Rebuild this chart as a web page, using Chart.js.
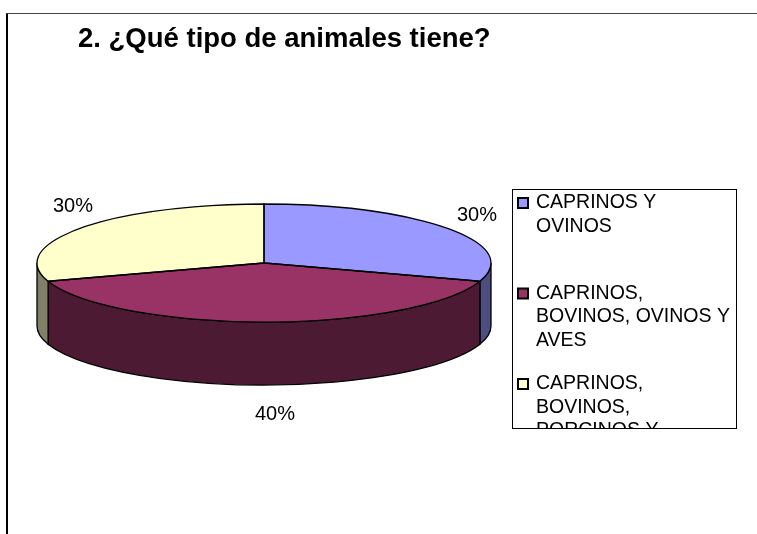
<!DOCTYPE html>
<html>
<head>
<meta charset="utf-8">
<script src="https://cdn.jsdelivr.net/npm/chart.js@4"></script>
<style>
    html, body { margin: 0; padding: 0; background: #fff; }
    #grafico { display: block; }
</style>
</head>
<body>
<canvas id="grafico" width="757" height="534"></canvas>
<script>
const titulo = '2. ¿Qué tipo de animales tiene?';
const categorias = ['CAPRINOS Y OVINOS', 'CAPRINOS, BOVINOS, OVINOS Y AVES', 'CAPRINOS, BOVINOS, PORCINOS Y OVINOS'];
const porcentajes = [30, 40, 30];

const coloresCara = ['#9999FF', '#993366', '#FFFFCC'],
    coloresLado = ['#4D4D80', '#4D1A33', '#808066'];

const fuente = '"Liberation Sans", Arial, sans-serif';

// elipse del pastel en pantalla
const pastel = { cx: 264, cy: 263, rx: 227, ry: 59, prof: 63 };

function frontal(a1, a2) {
    // parte de [a1,a2] que cae en la mitad delantera (0..PI)
    let res = [];
    for (let k = -1; k <= 1; k++) {
        let lo = Math.max(a1, k * 2 * Math.PI), hi = Math.min(a2, k * 2 * Math.PI + Math.PI);
        if (hi > lo) res.push([lo, hi]);
    }
    return res;
}

const pastel3d = {
    id: 'pastel3d',
    beforeDraw(chart) {
        const ctx = chart.ctx;
        ctx.save();
        ctx.fillStyle = '#fff';
        ctx.fillRect(0, 0, chart.width, chart.height);
        // marco
        ctx.fillStyle = '#000';
        ctx.fillRect(6, 13, 2, chart.height - 13);
        ctx.fillStyle = '#444';
        ctx.fillRect(6, 13, chart.width - 6, 1);
        ctx.restore();
    },
    beforeDatasetsDraw(chart) {
        const ctx = chart.ctx,
            arcos = chart.getDatasetMeta(0).data,
            { cx, cy, rx, ry, prof } = pastel;

        // lados
        ctx.save();
        ctx.lineWidth = 1.3;
        ctx.strokeStyle = '#000';
        arcos.forEach((arc, i) => {
            frontal(arc.startAngle, arc.endAngle).forEach(([a1, a2]) => {
                ctx.beginPath();
                ctx.ellipse(cx, cy, rx, ry, 0, a1, a2, false);
                ctx.lineTo(cx + rx * Math.cos(a2), cy + ry * Math.sin(a2) + prof);
                ctx.ellipse(cx, cy + prof, rx, ry, 0, a2, a1, true);
                ctx.closePath();
                ctx.fillStyle = coloresLado[i];
                ctx.fill();
                ctx.stroke();
            });
        });
        ctx.restore();

        // cara superior: se aplasta el pastel de Chart.js
        const a = arcos[0];
        ctx.save();
        ctx.translate(cx, cy);
        ctx.scale(rx / a.outerRadius, ry / a.outerRadius);
        ctx.translate(-a.x, -a.y);
    },
    afterDatasetsDraw(chart) {
        const ctx = chart.ctx,
            arcos = chart.getDatasetMeta(0).data,
            { cx, cy, rx, ry, prof } = pastel;
        ctx.restore();

        ctx.save();
        ctx.lineWidth = 1.3;
        ctx.strokeStyle = '#000';
        arcos.forEach(arc => {
            ctx.beginPath();
            ctx.moveTo(cx, cy);
            ctx.lineTo(cx + rx * Math.cos(arc.startAngle), cy + ry * Math.sin(arc.startAngle));
            ctx.ellipse(cx, cy, rx, ry, 0, arc.startAngle, arc.endAngle, false);
            ctx.closePath();
            ctx.stroke();
        });

        // etiquetas de porcentaje
        const total = porcentajes.reduce((s, v) => s + v, 0);
        ctx.fillStyle = '#000';
        ctx.font = '20px ' + fuente;
        ctx.textAlign = 'center';
        ctx.textBaseline = 'middle';
        arcos.forEach((arc, i) => {
            let m = (arc.startAngle + arc.endAngle) / 2,
                c = Math.cos(m), s = Math.sin(m);
            let x = cx + c * rx * 1.1 + 11,
                y = cy + s * ry * 1.5 + (s > 0.3 ? prof : 0) + c * 6;
            ctx.fillText(Math.round(porcentajes[i] / total * 100) + '%', x, y);
        });
        ctx.restore();
    },
    afterDraw(chart) {
        // leyenda
        const ctx = chart.ctx,
            caja = { x: 512, y: 189, w: 224, h: 239 },
            maxAncho = 199;
        ctx.save();
        ctx.lineWidth = 1;
        ctx.strokeStyle = '#000';
        ctx.strokeRect(caja.x + 0.5, caja.y + 0.5, caja.w, caja.h);
        ctx.beginPath();
        ctx.rect(caja.x + 1, caja.y + 1, caja.w - 1, caja.h - 1);
        ctx.clip();

        ctx.font = '19.5px ' + fuente;
        ctx.textBaseline = 'middle';
        ctx.textAlign = 'left';
        chart.data.labels.forEach((texto, i) => {
            let y0 = caja.y + 14 + i * 90.5;
            ctx.fillStyle = coloresCara[i];
            ctx.fillRect(518, y0 - 5, 10, 10);
            ctx.lineWidth = 2;
            ctx.strokeRect(518, y0 - 5, 10, 10);

            let lineas = [], actual = '';
            texto.split(' ').forEach(p => {
                let prueba = actual ? actual + ' ' + p : p;
                if (ctx.measureText(prueba).width > maxAncho && actual) {
                    lineas.push(actual);
                    actual = p;
                } else {
                    actual = prueba;
                }
            });
            lineas.push(actual);

            ctx.fillStyle = '#000';
            lineas.forEach((l, j) => ctx.fillText(l, 536, y0 + j * 23.5));
        });
        ctx.restore();
    }
};

new Chart(document.getElementById('grafico'), {
    type: 'pie',
    data: {
        labels: categorias,
        datasets: [{
            data: porcentajes,
            backgroundColor: coloresCara,
            borderWidth: 0,
            clip: false,
        }]
    },
    options: {
        responsive: false,
        animation: false,
        events: [],
        layout: { padding: { left: 78, right: 20, top: 0, bottom: 20 } },
        plugins: {
            legend: { display: false },
            tooltip: { enabled: false },
            title: {
                display: true,
                text: titulo,
                align: 'start',
                color: '#000',
                font: { family: fuente, size: 27.5, weight: 'bold' },
                padding: { top: 23, bottom: 10 },
            },
        },
    },
    plugins: [pastel3d],
});
</script>
</body>
</html>
